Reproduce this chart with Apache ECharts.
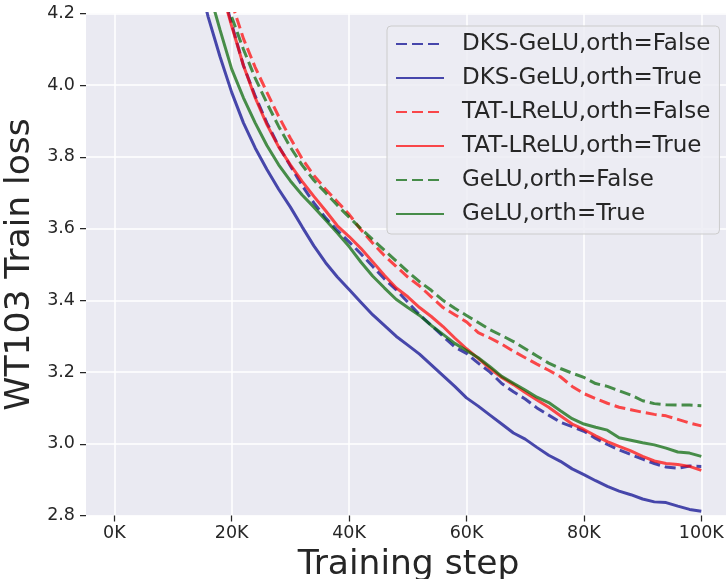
<!DOCTYPE html>
<html>
<head>
<meta charset="utf-8">
<script src="https://cdn.jsdelivr.net/npm/echarts@6/dist/echarts.min.js"></script>
<style>
html,body{margin:0;padding:0;background:#fff;}
#chart{width:726px;height:579px;}
</style>
</head>
<body>
<div id="chart"></div>
<script>
// Training steps (x values)
const steps = [14000,16000,18000,20000,22000,24000,26000,28000,30000,32000,34000,36000,38000,40000,42000,44000,46000,48000,50000,52000,54000,56000,58000,60000,62000,64000,66000,68000,70000,72000,74000,76000,78000,80000,82000,84000,86000,88000,90000,92000,94000,96000,98000,100000];

const seriesNames = ['DKS-GeLU,orth=False','DKS-GeLU,orth=True','TAT-LReLU,orth=False','TAT-LReLU,orth=True','GeLU,orth=False','GeLU,orth=True'];

const dksFalse = [null,null,4.29,4.17,4.055,3.97,3.895,3.83,3.775,3.72,3.672,3.63,3.595,3.563,3.53,3.495,3.46,3.43,3.395,3.36,3.33,3.30,3.27,3.252,3.225,3.20,3.168,3.145,3.125,3.10,3.08,3.06,3.048,3.035,3.015,2.998,2.983,2.97,2.957,2.945,2.935,2.932,2.938,2.937];
const dksTrue = [4.32,4.19,4.08,3.98,3.895,3.825,3.765,3.71,3.66,3.605,3.552,3.505,3.465,3.43,3.395,3.36,3.33,3.30,3.275,3.25,3.22,3.19,3.16,3.128,3.105,3.08,3.055,3.03,3.013,2.99,2.968,2.951,2.93,2.914,2.897,2.881,2.868,2.858,2.846,2.838,2.836,2.826,2.817,2.812];
const tatFalse = [null,null,null,4.23,4.13,4.05,3.98,3.913,3.852,3.795,3.748,3.71,3.675,3.64,3.597,3.56,3.525,3.495,3.465,3.44,3.41,3.38,3.36,3.34,3.31,3.295,3.278,3.258,3.24,3.222,3.205,3.187,3.16,3.14,3.126,3.113,3.102,3.095,3.088,3.082,3.078,3.068,3.058,3.05];
const tatTrue = [null,null,4.28,4.165,4.055,3.965,3.89,3.828,3.778,3.732,3.69,3.65,3.608,3.578,3.545,3.508,3.47,3.435,3.41,3.38,3.355,3.327,3.295,3.265,3.238,3.21,3.185,3.165,3.143,3.122,3.102,3.078,3.055,3.04,3.022,3.006,2.993,2.98,2.965,2.952,2.945,2.942,2.937,2.926];
const geluFalse = [null,null,4.32,4.19,4.10,4.02,3.95,3.885,3.827,3.777,3.735,3.70,3.665,3.632,3.60,3.57,3.54,3.51,3.48,3.452,3.428,3.40,3.378,3.358,3.338,3.318,3.302,3.285,3.265,3.245,3.225,3.21,3.197,3.185,3.168,3.16,3.148,3.136,3.12,3.112,3.109,3.108,3.108,3.106];
const geluTrue = [null,4.27,4.155,4.045,3.965,3.895,3.832,3.778,3.733,3.694,3.66,3.624,3.588,3.55,3.507,3.468,3.435,3.403,3.38,3.358,3.33,3.305,3.28,3.26,3.24,3.215,3.188,3.169,3.15,3.13,3.115,3.092,3.07,3.055,3.046,3.038,3.017,3.01,3.003,2.997,2.988,2.977,2.974,2.965];

const xTicks = [0,20000,40000,60000,80000,100000];
const yTicks = [2.8,3.0,3.2,3.4,3.6,3.8,4.0,4.2];

const allData = [dksFalse,dksTrue,tatFalse,tatTrue,geluFalse,geluTrue];
const colors = ['#00008b','#00008b','#ff0000','#ff0000','#006400','#006400'];
const dashed = [true,false,true,false,true,false];

const FONT = 'DejaVu Sans';
const TXT = '#262626';

const chart = echarts.init(document.getElementById('chart'), null, {renderer:'canvas'});

const series = allData.map((vals, i) => ({
  name: seriesNames[i],
  type: 'line',
  xAxisIndex: 1,
  yAxisIndex: 1,
  data: steps.map((s, j) => [s, vals[j]]),
  showSymbol: false,
  symbol: 'none',
  smooth: false,
  clip: true,
  animation: false,
  color: colors[i],
  lineStyle: {
    color: colors[i],
    width: 3,
    opacity: 0.7,
    type: dashed[i] ? [11,5] : 'solid'
  },
  itemStyle: {color: colors[i], opacity: 0.7}
}));

const option = {
  animation: false,
  backgroundColor: '#ffffff',
  textStyle: {fontFamily: FONT},
  grid: [
    {left: 86, right: -5, top: 13.5, bottom: 63.5, show: true, backgroundColor: '#EAEAF2', borderWidth: 0, containLabel: false, outerBoundsMode: 'none'},
    {left: 114.3, right: 24.7, top: 13.5, bottom: 63.5, show: false, containLabel: false, outerBoundsMode: 'none'}
  ],
  xAxis: [
    {
      gridIndex: 0, type: 'value', min: -5000, max: 105000,
      axisLine: {show: false, onZero: false}, axisTick: {show: false}, axisLabel: {show: false}, splitLine: {show: false},
      name: 'Training step', nameLocation: 'middle', nameGap: 32,
      nameTextStyle: {fontFamily: FONT, fontSize: 34.5, color: TXT}
    },
    {
      gridIndex: 1, type: 'value', min: xTicks[0], max: xTicks[xTicks.length-1], interval: 20000,
      axisLine: {show: false, onZero: false},
      axisTick: {show: true, length: 6, lineStyle: {color: TXT, width: 1.25}},
      axisLabel: {show: true, margin: 9, fontFamily: FONT, fontSize: 17.5, color: TXT,
        formatter: v => (v/1000) + 'K'},
      splitLine: {show: true, lineStyle: {color: '#ffffff', width: 1.5}}
    }
  ],
  yAxis: [
    {
      gridIndex: 0, type: 'value', min: yTicks[0], max: yTicks[yTicks.length-1], interval: 0.2,
      axisLine: {show: false, onZero: false},
      axisTick: {show: true, length: 6, lineStyle: {color: TXT, width: 1.25}},
      axisLabel: {show: true, margin: 11, fontFamily: FONT, fontSize: 17.5, color: TXT,
        formatter: v => v.toFixed(1)},
      splitLine: {show: true, lineStyle: {color: '#ffffff', width: 1.5}},
      name: 'WT103 Train loss', nameLocation: 'middle', nameGap: 48, nameRotate: 90,
      nameMoveOverlap: false,
      nameTextStyle: {fontFamily: FONT, fontSize: 34.5, color: TXT}
    },
    {
      gridIndex: 1, type: 'value', min: yTicks[0], max: yTicks[yTicks.length-1],
      show: false, axisLine: {onZero: false}, splitLine: {show: false}
    }
  ],
  legend: {
    show: true,
    orient: 'vertical',
    left: 387, top: 26,
    padding: [6, 9, 8, 8],
    itemWidth: 48, itemHeight: 14, itemGap: 10,
    backgroundColor: 'rgba(236,236,243,0.85)',
    borderColor: '#cccccc', borderWidth: 1, borderRadius: 4,
    itemStyle: {opacity: 0, borderWidth: 0},
    textStyle: {fontFamily: FONT, fontSize: 23, color: TXT, lineHeight: 24, padding: [0,0,0,13]},
    data: seriesNames.slice()
  },
  series: series
};

chart.setOption(option);
</script>
</body>
</html>
